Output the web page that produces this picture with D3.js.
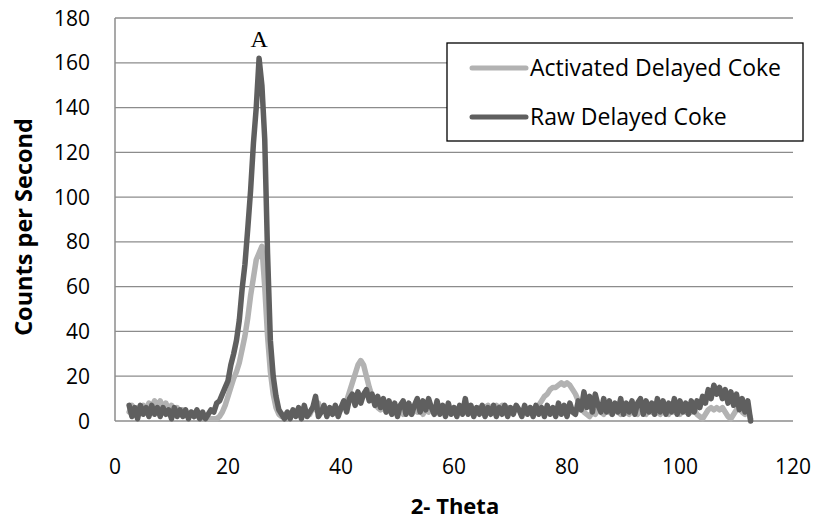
<!DOCTYPE html>
<html>
<head>
<meta charset="utf-8">
<script src="https://cdn.jsdelivr.net/npm/d3@7"></script>
<style>
  body { margin: 0; background: #fff; }
  .tick-label { font-family: "Open Sans", sans-serif; font-size: 21px; fill: #000; }
  .axis-title { font-family: "Open Sans", sans-serif; font-weight: bold; font-size: 22px; fill: #000; }
  .legend-text { font-family: "Open Sans", sans-serif; font-size: 23px; fill: #000; }
</style>
</head>
<body>
<svg class="chart"></svg>
<script>
let width = 814,
  height = 522;

// 2-theta grid of the scan: starts at 2.5, one reading every 0.5 degree
let thetaStart = 2.5,
  thetaStep = 0.5;

// counts per second, 2.5 .. 112.5 (10 values per row = 5 degrees)
let activated = [
  4, 7, 3, 6, 4, 7, 5, 8, 6, 9,
  7, 9, 6, 8, 5, 7, 4, 6, 3, 5,
  3, 2, 4, 2, 3, 1, 2, 1, 1, 1,
  1, 1, 2, 4, 7, 11, 15, 19, 22, 26,
  32, 38, 46, 56, 64, 72, 75, 78, 60, 38,
  22, 12, 6, 3, 2, 3, 2, 3, 4, 3,
  4, 3, 5, 4, 3, 6, 5, 8, 4, 5,
  4, 5, 3, 6, 4, 5, 7, 9, 13, 17,
  21, 25, 27, 25, 20, 15, 11, 8, 6, 5,
  6, 4, 5, 3, 6, 4, 5, 3, 4, 6,
  3, 5, 4, 6, 3, 5, 4, 6, 3, 5,
  4, 6, 3, 5, 4, 6, 5, 4, 6, 5,
  4, 6, 5, 4, 6, 5, 6, 7, 5, 6,
  7, 6, 7, 5, 6, 5, 4, 6, 5, 4,
  5, 4, 6, 5, 6, 7, 9, 11, 12, 14,
  15, 15, 16, 17, 16, 17, 16, 14, 12, 9,
  6, 4, 3, 2, 4, 3, 5, 4, 3, 5,
  4, 3, 5, 4, 3, 5, 4, 3, 5, 4,
  3, 5, 4, 3, 5, 4, 6, 4, 3, 5,
  4, 3, 5, 4, 6, 3, 5, 4, 6, 4,
  5, 3, 2, 1, 3, 5, 6, 5, 6, 5,
  6, 4, 2, 1, 3, 5, 6, 4, 3, 5,
  1
];

let raw = [
  7, 2, 6, 1, 7, 3, 6, 2, 7, 3,
  6, 2, 6, 3, 5, 1, 6, 2, 5, 2,
  5, 1, 4, 2, 5, 1, 4, 1, 3, 5,
  4, 8, 9, 12, 15, 18, 25, 30, 36, 45,
  59, 70, 86, 103, 124, 140, 162, 150, 126, 75,
  36, 20, 11, 5, 3, 1, 4, 1, 5, 2,
  6, 1, 7, 2, 4, 6, 11, 2, 4, 7,
  2, 6, 3, 7, 2, 6, 9, 4, 10, 12,
  7, 13, 8, 12, 14, 9, 12, 7, 11, 6,
  10, 4, 9, 3, 8, 2, 7, 9, 3, 8,
  3, 7, 10, 4, 9, 5, 10, 6, 3, 9,
  3, 7, 2, 8, 3, 6, 2, 7, 3, 10,
  3, 7, 2, 6, 3, 7, 2, 6, 3, 7,
  2, 6, 3, 7, 2, 6, 3, 7, 5, 2,
  7, 3, 6, 2, 7, 3, 6, 2, 7, 3,
  6, 2, 8, 3, 7, 2, 8, 4, 3, 9,
  5, 13, 6, 11, 4, 12, 7, 4, 10, 4,
  9, 3, 8, 4, 10, 3, 8, 4, 9, 3,
  8, 10, 3, 9, 4, 8, 3, 10, 4, 9,
  3, 8, 4, 10, 3, 9, 4, 8, 3, 9,
  4, 9, 6, 11, 8, 14, 10, 16, 12, 15,
  10, 14, 8, 13, 7, 12, 5, 10, 4, 9,
  0
];

let seriesNames = ["Activated Delayed Coke", "Raw Delayed Coke"];
let seriesColors = ["#b2b2b2", "#5f5f5f"];
let xTicks = [0, 20, 40, 60, 80, 100, 120];
let yTicks = [0, 20, 40, 60, 80, 100, 120, 140, 160, 180];

let svg = d3.select(".chart").attr("width", width).attr("height", height);

let x = d3.scaleLinear().domain([0, 120]).range([115, 793]);
let y = d3.scaleLinear().domain([0, 180]).range([421, 18]);

// horizontal gridlines
svg
  .selectAll(".grid")
  .data(yTicks.slice(1))
  .enter()
  .append("line")
  .attr("x1", x(0))
  .attr("x2", x(120))
  .attr("y1", (d) => y(d))
  .attr("y2", (d) => y(d))
  .attr("stroke", "#8c8c8c")
  .attr("stroke-width", 1.3);

// axis lines
svg.append("line")
  .attr("x1", x(0)).attr("x2", x(120))
  .attr("y1", y(0)).attr("y2", y(0))
  .attr("stroke", "#8c8c8c").attr("stroke-width", 1.5);
svg.append("line")
  .attr("x1", x(0)).attr("x2", x(0))
  .attr("y1", y(0)).attr("y2", y(180))
  .attr("stroke", "#8c8c8c").attr("stroke-width", 1.5);

// tick labels
svg
  .selectAll(".ylab")
  .data(yTicks)
  .enter()
  .append("text")
  .attr("class", "tick-label")
  .attr("x", 90)
  .attr("y", (d) => y(d))
  .attr("dy", "0.36em")
  .attr("text-anchor", "end")
  .text((d) => d);

svg
  .selectAll(".xlab")
  .data(xTicks)
  .enter()
  .append("text")
  .attr("class", "tick-label")
  .attr("x", (d) => x(d))
  .attr("y", 466)
  .attr("dy", "0.36em")
  .attr("text-anchor", "middle")
  .text((d) => d);

// axis titles
svg.append("text")
  .attr("class", "axis-title")
  .attr("x", 455)
  .attr("y", 506)
  .attr("dy", "0.36em")
  .attr("text-anchor", "middle")
  .text("2- Theta");

svg.append("text")
  .attr("class", "axis-title")
  .attr("transform", "translate(24,227) rotate(-90)")
  .attr("dy", "0.36em")
  .attr("text-anchor", "middle")
  .style("font-size", "23.5px")
  .text("Counts per Second");

// the two scans, raw on top
let line = d3
  .line()
  .x((d, i) => x(thetaStart + i * thetaStep))
  .y((d) => y(d));

[activated, raw].forEach(function (values, k) {
  svg.append("path")
    .datum(values)
    .attr("fill", "none")
    .attr("stroke", seriesColors[k])
    .attr("stroke-width", 5.5)
    .attr("stroke-linejoin", "round")
    .attr("stroke-linecap", "round")
    .attr("d", line);
});

// peak label
svg.append("text")
  .attr("x", x(25.5))
  .attr("y", 47)
  .attr("text-anchor", "middle")
  .style("font-family", "'Liberation Serif', serif")
  .style("font-size", "24px")
  .text("A");

// legend
let legend = svg.append("g");
legend.append("rect")
  .attr("x", 447).attr("y", 43)
  .attr("width", 356).attr("height", 98)
  .attr("fill", "#fff")
  .attr("stroke", "#000")
  .attr("stroke-width", 1.3);

legend
  .selectAll(".item")
  .data(seriesNames)
  .enter()
  .append("g")
  .attr("transform", (d, i) => "translate(0," + (68 + i * 49) + ")")
  .each(function (d, i) {
    let g = d3.select(this);
    g.append("line")
      .attr("x1", 472).attr("x2", 526)
      .attr("stroke", seriesColors[i])
      .attr("stroke-width", 5)
      .attr("stroke-linecap", "round");
    g.append("text")
      .attr("class", "legend-text")
      .attr("x", 530)
      .attr("dy", "0.36em")
      .text(d);
  });
</script>
</body>
</html>
